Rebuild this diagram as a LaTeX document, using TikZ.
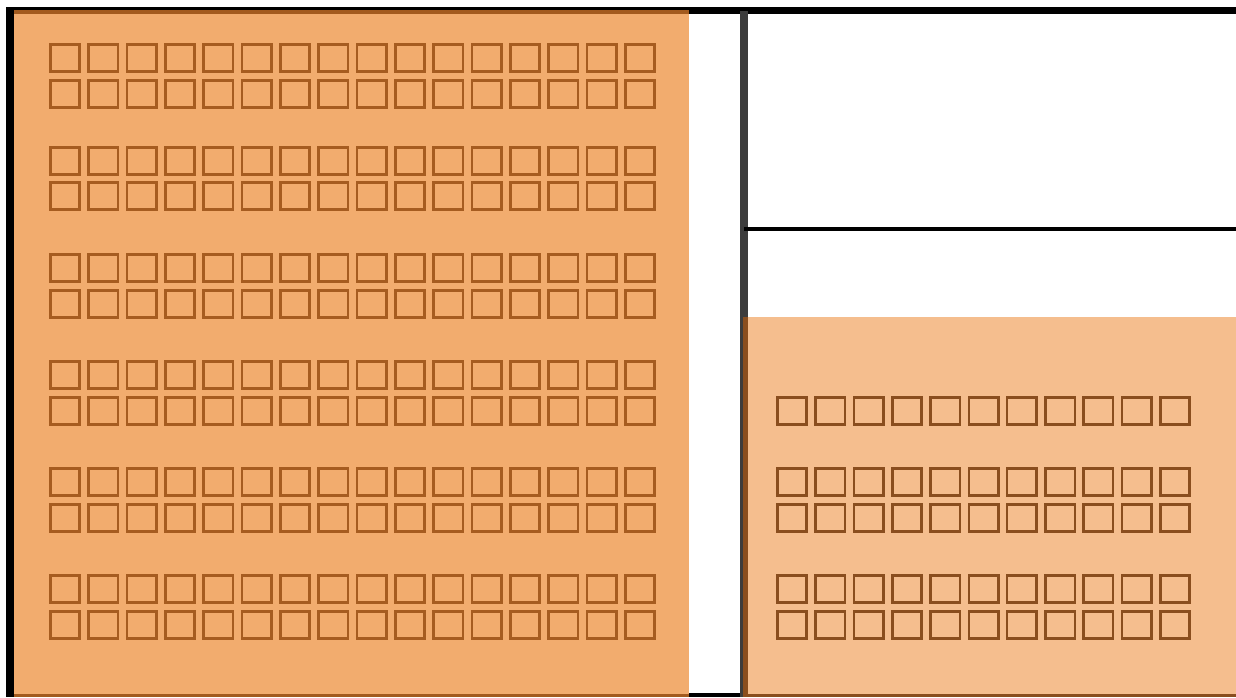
\documentclass[tikz,border=0pt]{standalone}
\usepackage{tikz}
\definecolor{hallorange}{RGB}{242, 172, 110}
\definecolor{roomorange}{RGB}{245, 190, 142}
\definecolor{edgebrown}{RGB}{163, 90, 30}
\definecolor{seatbrown}{RGB}{166, 92, 32}
\definecolor{seatdark}{RGB}{138, 78, 30}
\definecolor{wallgray}{RGB}{60, 60, 60}

\begin{document}
\begin{tikzpicture}[
  x=1pt, y=-1pt,
  wall/.style={line width=7pt, black},
  thinwall/.style={line width=4pt, black},
  seat/.style={draw=seatbrown, line width=2.6pt},
  seatright/.style={draw=seatdark, line width=2.6pt}
]
  \useasboundingbox (0,0) rectangle (1236,697);
  % outer walls
  \draw[wall] (6,10.5) -- (1236,10.5);
  \draw[thinwall] (689,695) -- (744,695);
  % main hall
  \fill[hallorange] (14,10) rectangle (689,697);
  \draw[edgebrown, line width=4pt] (14,12) -- (689,12);
  \draw[edgebrown, line width=3pt] (14,695.5) -- (689,695.5);
  \draw[line width=8pt, black] (10,7) -- (10,697);
  % partition walls
  \draw[line width=8pt, wallgray] (744,11) -- (744,697);
  \draw[thinwall] (744,228.5) -- (1236,228.5);
  % side room
  \fill[roomorange] (747,317) rectangle (1236,697);
  \draw[seatdark, line width=4.5pt] (745.5,317) -- (745.5,697);
  \draw[seatdark, line width=3pt] (744,695.5) -- (1236,695.5);
  % seats in main hall
  \foreach \y in {43,79,146,181,253,289,360,396,467,503,574,610}
    \foreach \i in {0,...,15}
      \draw[seat] ({49+38.33*\i+1.3},\y+1.3) rectangle ++(29.4,27);
  % seats in side room
  \foreach \y in {396,467,503,574,610}
    \foreach \i in {0,...,10}
      \draw[seatright] ({776+38.3*\i+1.3},\y+1.3) rectangle ++(29.4,27);
\end{tikzpicture}
\end{document}
